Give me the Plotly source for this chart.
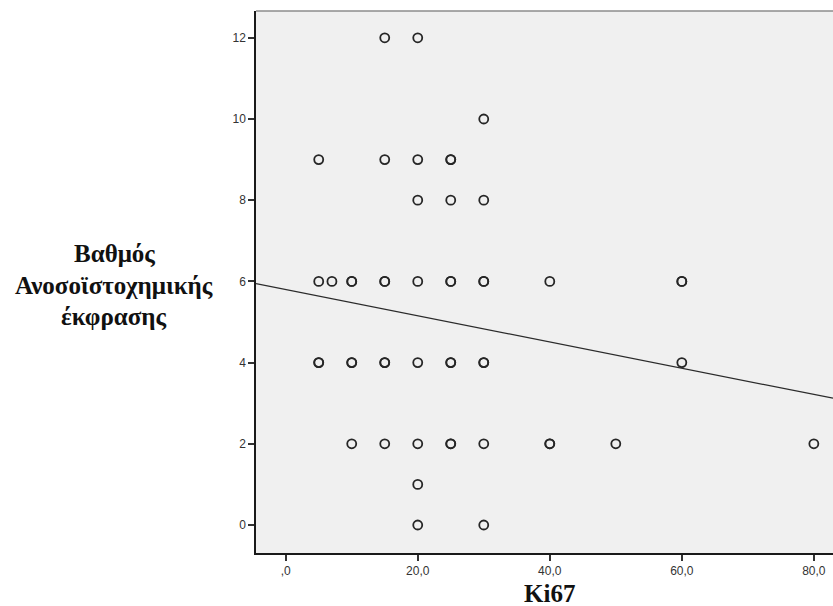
import plotly.graph_objects as go

# Ki67 index vs immunohistochemical expression score (repeated pairs listed once per case)
ki67 = [15, 20,
        30,
        5, 15, 20, 25, 25,
        20, 25, 30,
        5, 7, 10, 10, 15, 15, 20, 25, 25, 30, 30, 40, 60, 60,
        5, 5, 10, 10, 15, 15, 20, 25, 25, 30, 30, 60,
        10, 15, 20, 25, 25, 30, 40, 40, 50, 80,
        20,
        20, 30]
score = [12, 12,
         10,
         9, 9, 9, 9, 9,
         8, 8, 8,
         6, 6, 6, 6, 6, 6, 6, 6, 6, 6, 6, 6, 6, 6,
         4, 4, 4, 4, 4, 4, 4, 4, 4, 4, 4, 4,
         2, 2, 2, 2, 2, 2, 2, 2, 2, 2,
         1,
         0, 0]

# Linear fit line (intercept, slope)
fit_intercept = 5.80
fit_slope = -0.0323

x_ticks = [0, 20, 40, 60, 80]
x_tick_text = [",0", "20,0", "40,0", "60,0", "80,0"]
y_ticks = [0, 2, 4, 6, 8, 10, 12]

y_title_lines = ["Βαθμός", "Ανοσοϊστοχημικής", "έκφρασης"]
x_title = "Ki67"

x_range = [-4.5, 82.9]
y_range = [-0.69, 12.66]

fig = go.Figure()

fig.add_trace(go.Scatter(
    x=x_range,
    y=[fit_intercept + fit_slope * v for v in x_range],
    mode="lines",
    line=dict(color="#2b2b2b", width=1.2),
    hoverinfo="skip",
    showlegend=False,
))

fig.add_trace(go.Scatter(
    x=ki67, y=score,
    mode="markers",
    marker=dict(symbol="circle-open", size=9, color="#262626",
                line=dict(width=1.8, color="#262626")),
    showlegend=False,
))

tick_font = dict(family="Liberation Sans, Arial", size=12, color="#333333")
title_font = dict(family="Liberation Serif, Times New Roman", size=25, color="#111111")

# vertical title: one annotation per line for tighter leading
title_annotations = [
    dict(text=f"<b>{txt}</b>", xref="paper", yref="paper",
         x=-0.246, y=yp, xanchor="center", yanchor="middle",
         showarrow=False, font=title_font)
    for txt, yp in zip(y_title_lines, [0.553, 0.494, 0.437])
]

fig.update_layout(
    width=833, height=606,
    margin=dict(l=256, r=0, t=11, b=53),
    paper_bgcolor="white",
    plot_bgcolor="#f0f0f0",
    xaxis=dict(
        range=x_range, tickvals=x_ticks, ticktext=x_tick_text,
        showgrid=False, zeroline=False,
        showline=True, linecolor="#1a1a1a", linewidth=1.5,
        ticks="outside", ticklen=6, tickwidth=1.5, tickcolor="#333333",
        tickfont=tick_font,
    ),
    yaxis=dict(
        range=y_range, tickvals=y_ticks,
        showgrid=False, zeroline=False,
        showline=True, linecolor="#1a1a1a", linewidth=1.5,
        ticks="outside", ticklen=6, tickwidth=1.5, tickcolor="#333333",
        tickfont=tick_font,
    ),
    shapes=[
        dict(type="line", xref="paper", yref="paper", x0=0, x1=1, y0=1, y1=1,
             line=dict(color="#8c8c8c", width=1.5)),
    ],
    annotations=title_annotations + [
        dict(text=f"<b>{x_title}</b>",
             xref="x", yref="paper", x=40, y=-0.074,
             xanchor="center", yanchor="middle", showarrow=False,
             font=title_font),
    ],
)

fig.write_html("out.html")
